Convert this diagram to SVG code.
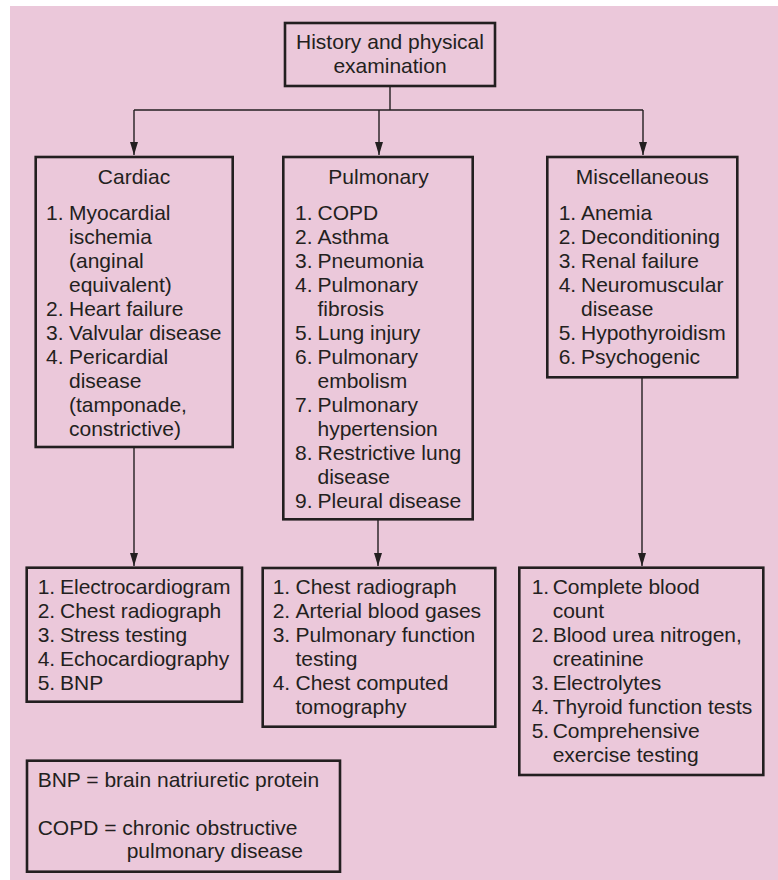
<svg xmlns="http://www.w3.org/2000/svg" width="778" height="880" viewBox="0 0 778 880">
<style>
.bx{fill:none;stroke:#231f20;stroke-width:2.6}
.t{font-family:"Liberation Sans",Arial,sans-serif;font-size:21px;fill:#231f20}
.c{text-anchor:middle}
.ln{fill:none;stroke:#231f20;stroke-width:1.4}
</style>
<defs>
<marker id="ah" viewBox="0 0 13 8" refX="13" refY="4" markerWidth="13" markerHeight="8" markerUnits="userSpaceOnUse" orient="auto">
<path d="M0,0 L13,4 L0,8 z" fill="#231f20"/>
</marker>
</defs>
<rect x="10" y="6" width="768" height="874" fill="#ebc8da"/>
<g id="connectors">
<path class="ln" d="M390,86 V110"/>
<path class="ln" d="M134,110 H643"/>
<path class="ln" d="M134,110 V155" marker-end="url(#ah)"/>
<path class="ln" d="M379,110 V155" marker-end="url(#ah)"/>
<path class="ln" d="M643,110 V155" marker-end="url(#ah)"/>
<path class="ln" d="M134,447 V566" marker-end="url(#ah)"/>
<path class="ln" d="M378,519 V566" marker-end="url(#ah)"/>
<path class="ln" d="M642,377 V566" marker-end="url(#ah)"/>
</g>
<g id="history">
<rect class="bx" x="285" y="23" width="210" height="63"/>
<text class="t c" x="390" y="49">History and physical</text>
<text class="t c" x="390" y="73">examination</text>
</g>
<g id="cardiac">
<rect class="bx" x="35.7" y="157" width="197" height="290"/>
<text class="t c" x="134" y="184">Cardiac</text>
<text class="t" x="46" y="220">1.</text><text class="t" x="69" y="220">Myocardial</text>
<text class="t" x="69" y="244">ischemia</text>
<text class="t" x="69" y="268">(anginal</text>
<text class="t" x="69" y="292">equivalent)</text>
<text class="t" x="46" y="316">2.</text><text class="t" x="69" y="316">Heart failure</text>
<text class="t" x="46" y="340">3.</text><text class="t" x="69" y="340">Valvular disease</text>
<text class="t" x="46" y="364">4.</text><text class="t" x="69" y="364">Pericardial</text>
<text class="t" x="69" y="388">disease</text>
<text class="t" x="69" y="412">(tamponade,</text>
<text class="t" x="69" y="436">constrictive)</text>
</g>
<g id="pulmonary">
<rect class="bx" x="283.3" y="157" width="189.4" height="362.3"/>
<text class="t c" x="378.5" y="184">Pulmonary</text>
<text class="t" x="295" y="220">1.</text><text class="t" x="317.5" y="220">COPD</text>
<text class="t" x="295" y="244">2.</text><text class="t" x="317.5" y="244">Asthma</text>
<text class="t" x="295" y="268">3.</text><text class="t" x="317.5" y="268">Pneumonia</text>
<text class="t" x="295" y="292">4.</text><text class="t" x="317.5" y="292">Pulmonary</text>
<text class="t" x="317.5" y="316">fibrosis</text>
<text class="t" x="295" y="340">5.</text><text class="t" x="317.5" y="340">Lung injury</text>
<text class="t" x="295" y="364">6.</text><text class="t" x="317.5" y="364">Pulmonary</text>
<text class="t" x="317.5" y="388">embolism</text>
<text class="t" x="295" y="412">7.</text><text class="t" x="317.5" y="412">Pulmonary</text>
<text class="t" x="317.5" y="436">hypertension</text>
<text class="t" x="295" y="460">8.</text><text class="t" x="317.5" y="460">Restrictive lung</text>
<text class="t" x="317.5" y="484">disease</text>
<text class="t" x="295" y="508">9.</text><text class="t" x="317.5" y="508">Pleural disease</text>
</g>
<g id="misc">
<rect class="bx" x="547.3" y="157" width="190" height="220.3"/>
<text class="t c" x="642.3" y="184">Miscellaneous</text>
<text class="t" x="558.7" y="220">1.</text><text class="t" x="581" y="220">Anemia</text>
<text class="t" x="558.7" y="244">2.</text><text class="t" x="581" y="244">Deconditioning</text>
<text class="t" x="558.7" y="268">3.</text><text class="t" x="581" y="268">Renal failure</text>
<text class="t" x="558.7" y="292">4.</text><text class="t" x="581" y="292">Neuromuscular</text>
<text class="t" x="581" y="316">disease</text>
<text class="t" x="558.7" y="340">5.</text><text class="t" x="581" y="340">Hypothyroidism</text>
<text class="t" x="558.7" y="364">6.</text><text class="t" x="581" y="364">Psychogenic</text>
</g>
<g id="cardiac-tests">
<rect class="bx" x="26.7" y="567.7" width="215.3" height="134"/>
<text class="t" x="37.7" y="594">1.</text><text class="t" x="60" y="594">Electrocardiogram</text>
<text class="t" x="37.7" y="618">2.</text><text class="t" x="60" y="618">Chest radiograph</text>
<text class="t" x="37.7" y="642">3.</text><text class="t" x="60" y="642">Stress testing</text>
<text class="t" x="37.7" y="666">4.</text><text class="t" x="60" y="666">Echocardiography</text>
<text class="t" x="37.7" y="690">5.</text><text class="t" x="60" y="690">BNP</text>
</g>
<g id="pulmonary-tests">
<rect class="bx" x="262.7" y="568" width="232.6" height="158.7"/>
<text class="t" x="272.7" y="594">1.</text><text class="t" x="295.5" y="594">Chest radiograph</text>
<text class="t" x="272.7" y="618">2.</text><text class="t" x="295.5" y="618">Arterial blood gases</text>
<text class="t" x="272.7" y="642">3.</text><text class="t" x="295.5" y="642">Pulmonary function</text>
<text class="t" x="295.5" y="666">testing</text>
<text class="t" x="272.7" y="690">4.</text><text class="t" x="295.5" y="690">Chest computed</text>
<text class="t" x="295.5" y="714">tomography</text>
</g>
<g id="misc-tests">
<rect class="bx" x="519.3" y="567.7" width="244" height="207.3"/>
<text class="t" x="531.7" y="594">1.</text><text class="t" x="552.7" y="594">Complete blood</text>
<text class="t" x="552.7" y="618">count</text>
<text class="t" x="531.7" y="642">2.</text><text class="t" x="552.7" y="642">Blood urea nitrogen,</text>
<text class="t" x="552.7" y="666">creatinine</text>
<text class="t" x="531.7" y="690">3.</text><text class="t" x="552.7" y="690">Electrolytes</text>
<text class="t" x="531.7" y="714">4.</text><text class="t" x="552.7" y="714">Thyroid function tests</text>
<text class="t" x="531.7" y="738">5.</text><text class="t" x="552.7" y="738">Comprehensive</text>
<text class="t" x="552.7" y="762">exercise testing</text>
</g>
<g id="legend">
<rect class="bx" x="27" y="760.7" width="313" height="111"/>
<text class="t" x="37.7" y="787">BNP = brain natriuretic protein</text>
<text class="t" x="37.7" y="835">COPD = chronic obstructive</text>
<text class="t" x="126.7" y="858">pulmonary disease</text>
</g>
</svg>
